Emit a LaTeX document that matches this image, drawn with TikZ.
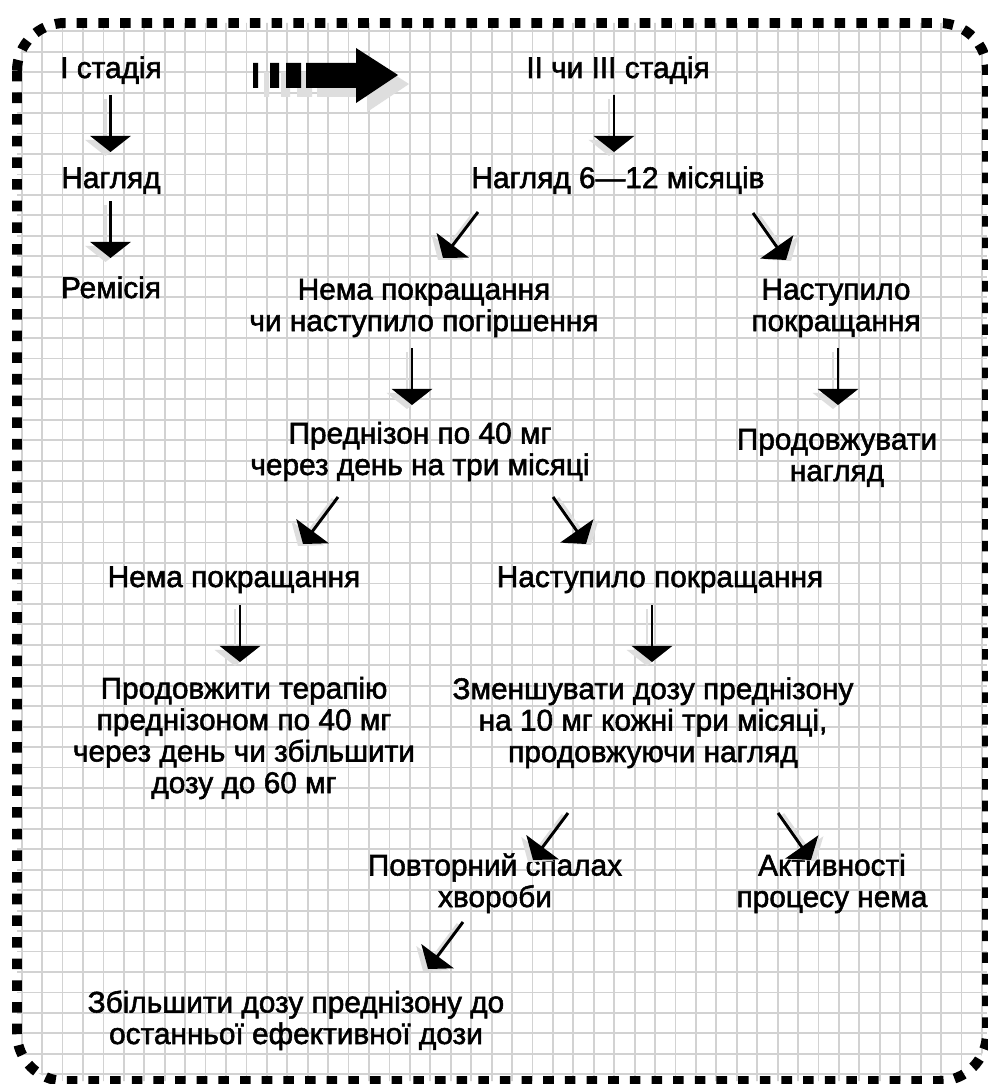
\documentclass[tikz,border=0pt]{standalone}
\usepackage{fontspec}
\setmainfont{Liberation Sans}
\newfontfamily\flowfont[FakeBold=1.8]{Liberation Sans}
\usetikzlibrary{arrows.meta}
\definecolor{gridgray}{RGB}{210,210,210}
\definecolor{shadowgray}{RGB}{222,222,222}

\begin{document}
\begin{tikzpicture}[x=0.025cm, y=-0.025cm,
  txt/.style={align=center, inner sep=0pt, anchor=base,
    font=\flowfont\fontsize{21.2}{22.4}\selectfont},
  arr/.style={line width=2.1pt, -{Triangle[width=28.5pt, length=11.4pt]}},
  arrshadow/.style={arr, shadowgray},
  gridline/.style={gridgray, line width=1.3pt}]
  \useasboundingbox (0,0) rectangle (987,1084);
  \fill[white] (0,0) rectangle (987,1084);

  % squared paper inside the frame
  \begin{scope}
    \clip[rounded corners=34pt] (17,23) rectangle (987,1081);
    \foreach \i in {0,...,47}
      \draw[gridline] ({21.7+\i*20.43},0) -- ({21.7+\i*20.43},1084);
    \foreach \j in {0,...,51}
      \draw[gridline] (0,{31.3+\j*20.45}) -- (987,{31.3+\j*20.45});
  \end{scope}
  \draw[line width=7.1pt, dash pattern=on 7.5pt off 7.9pt, rounded corners=34pt]
    (17,23) rectangle (987,1081);

  % big arrow between the two columns
  \fill[shadowgray, transform canvas={shift={(11,9)}}]
    (253,63) rectangle (258,88) (270,63) rectangle (279,88)
    (286,63) rectangle (301,88)
    (306,63) -- (356,63) -- (356,48) -- (398,75) -- (356,103) -- (356,88) -- (306,88) -- cycle;
  \fill[black]
    (253,63) rectangle (258,88) (270,63) rectangle (279,88)
    (286,63) rectangle (301,88)
    (306,63) -- (356,63) -- (356,48) -- (398,75) -- (356,103) -- (356,88) -- (306,88) -- cycle;

  % left column (y = baseline of the last line)
  \node[txt] (stage1) at (111,78) {I стадія};
  \node[txt] (obs1) at (111,188) {Нагляд};
  \node[txt] (remis) at (111,298) {Ремісія};

  % right part
  \node[txt] (stage23) at (618,78) {II чи III стадія};
  \node[txt] (obs2) at (618,188) {Нагляд 6—12 місяців};
  \node[txt] (noimp1) at (424,331) {Нема покращання\\чи наступило погіршення};
  \node[txt] (imp1) at (836,331) {Наступило\\покращання};
  \node[txt] (pred) at (420,475) {Преднізон по 40 мг\\через день на три місяці};
  \node[txt] (contobs) at (837,481) {Продовжувати\\нагляд};
  \node[txt] (noimp2) at (234,587) {Нема покращання};
  \node[txt] (imp2) at (660,587) {Наступило покращання};
  \node[txt] (cont) at (244,793) {Продовжити терапію\\преднізоном по 40 мг\\через день чи збільшити\\дозу до 60 мг};
  \node[txt] (reduce) at (653,762) {Зменшувати дозу преднізону\\на 10 мг кожні три місяці,\\продовжуючи нагляд};
  \node[txt] (relapse) at (495,907) {Повторний спалах\\хвороби};
  \node[txt] (inactive) at (832,907) {Активності\\процесу нема};
  \node[txt] (increase) at (296,1044) {Збільшити дозу преднізону до\\останньої ефективної дози};

  % arrow ends
  \coordinate (a1s) at (110.5,95);  \coordinate (a1e) at (110.5,152);
  \coordinate (a2s) at (110.5,201); \coordinate (a2e) at (110.5,258);
  \coordinate (a3s) at (614,95);    \coordinate (a3e) at (614,152);
  \coordinate (a4s) at (478,212);   \coordinate (a4e) at (443,258);
  \coordinate (a5s) at (753,213);   \coordinate (a5e) at (786,260);
  \coordinate (a6s) at (412,348);   \coordinate (a6e) at (412,405);
  \coordinate (a7s) at (838,348);   \coordinate (a7e) at (838,405);
  \coordinate (a8s) at (338,497);   \coordinate (a8e) at (303,544);
  \coordinate (a9s) at (553,497);   \coordinate (a9e) at (586,544);
  \coordinate (a10s) at (240,605); \coordinate (a10e) at (240,662);
  \coordinate (a11s) at (652,605); \coordinate (a11e) at (652,662);
  \coordinate (a12s) at (568,813); \coordinate (a12e) at (533,860);
  \coordinate (a13s) at (778,813); \coordinate (a13e) at (811,860);
  \coordinate (a14s) at (463,922); \coordinate (a14e) at (428,969);

  % shadows
  \draw[arrshadow, transform canvas={shift={(-5,4)}}] (a1s) -- (a1e);
  \draw[arrshadow, transform canvas={shift={(-5,4)}}] (a2s) -- (a2e);
  \draw[arrshadow, transform canvas={shift={(-5,4)}}] (a3s) -- (a3e);
  \draw[arrshadow, transform canvas={shift={(-5,2)}}] (a4s) -- (a4e);
  \draw[arrshadow, transform canvas={shift={(5,1)}}] (a5s) -- (a5e);
  \draw[arrshadow, transform canvas={shift={(-5,4)}}] (a6s) -- (a6e);
  \draw[arrshadow, transform canvas={shift={(-5,4)}}] (a7s) -- (a7e);
  \draw[arrshadow, transform canvas={shift={(-5,2)}}] (a8s) -- (a8e);
  \draw[arrshadow, transform canvas={shift={(5,1)}}] (a9s) -- (a9e);
  \draw[arrshadow, transform canvas={shift={(-5,4)}}] (a10s) -- (a10e);
  \draw[arrshadow, transform canvas={shift={(-5,4)}}] (a11s) -- (a11e);
  \draw[arrshadow, transform canvas={shift={(-5,2)}}] (a12s) -- (a12e);
  \draw[arrshadow, transform canvas={shift={(5,1)}}] (a13s) -- (a13e);
  \draw[arrshadow, transform canvas={shift={(-5,2)}}] (a14s) -- (a14e);

  % arrows
  \draw[arr] (a1s) -- (a1e);
  \draw[arr] (a2s) -- (a2e);
  \draw[arr] (a3s) -- (a3e);
  \draw[arr] (a4s) -- (a4e);
  \draw[arr] (a5s) -- (a5e);
  \draw[arr] (a6s) -- (a6e);
  \draw[arr] (a7s) -- (a7e);
  \draw[arr] (a8s) -- (a8e);
  \draw[arr] (a9s) -- (a9e);
  \draw[arr] (a10s) -- (a10e);
  \draw[arr] (a11s) -- (a11e);
  \draw[arr] (a12s) -- (a12e);
  \draw[arr] (a13s) -- (a13e);
  \draw[arr] (a14s) -- (a14e);
\end{tikzpicture}
\end{document}
